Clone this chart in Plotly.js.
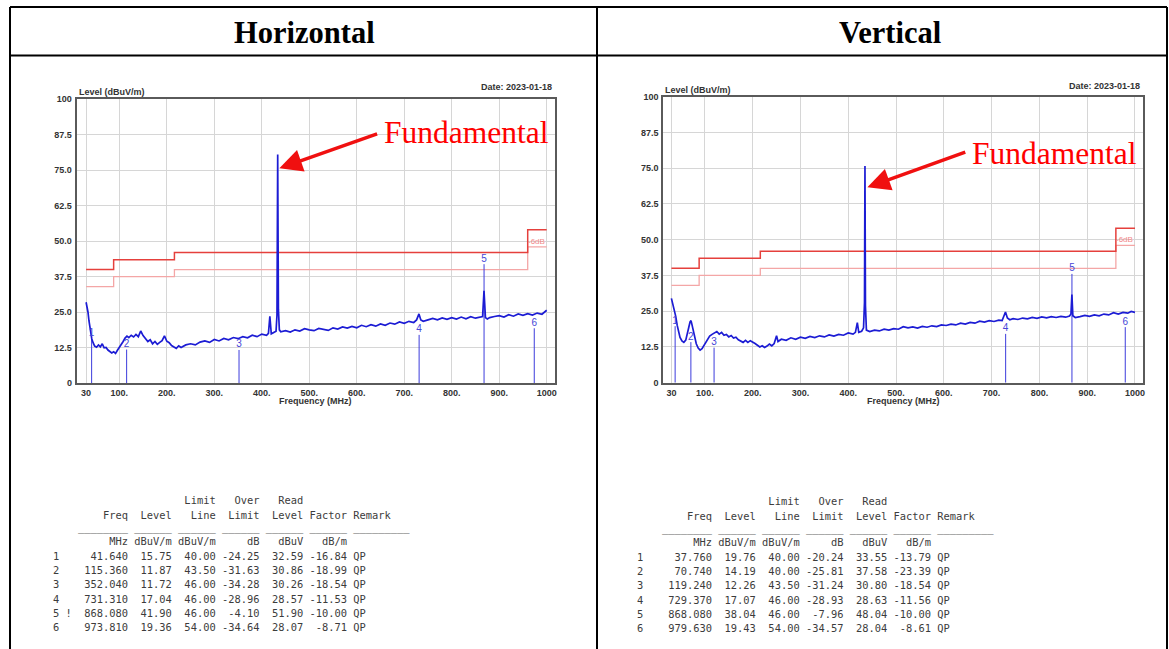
<!DOCTYPE html>
<html><head><meta charset="utf-8">
<script src="https://cdn.plot.ly/plotly-3.0.1.min.js"></script>
<style>html,body{margin:0;padding:0;background:#fff}#chart{width:1169px;height:649px}</style>
</head><body><div id="chart"></div>
<script>
// ---------- data ----------
const hFreq = [30,32,34,36,38,40,42,45,48,52,56,60,64,68,72,76,80,84,88,92,96,100,104,108,112,116,120,125,130,135,140,145,150,155,160,165,170,175,180,185,190,195,200,205,210,215,220,225,230,240,250,260,270,280,290,300,310,320,330,340,350,360,370,380,390,400,410,414,417,420,425,430,432,433.5,435,437,440,450,460,470,480,490,500,510,520,530,540,550,560,570,580,590,600,610,620,630,640,650,660,670,680,690,700,710,720,726,731,735,740,750,760,770,780,790,800,810,820,830,840,850,860,865,868,871,875,880,890,900,910,920,930,940,950,960,970,980,990,1000];
const hLevel = [28.5,27.2,25.0,22.0,19.5,17.2,15.6,14.2,13.1,12.7,13.5,12.8,13.9,12.5,12.6,11.7,11.2,10.7,11.1,10.5,11.6,12.5,13.4,14.7,15.9,16.6,16.1,16.9,16.3,17.2,16.4,18.4,16.8,15.6,14.7,15.3,13.9,14.7,13.7,14.4,15.0,16.7,14.8,14.3,13.3,12.8,12.3,13.2,12.6,13.5,13.9,13.5,14.5,14.9,14.4,15.4,14.9,15.8,15.3,16.1,15.7,16.4,16.0,16.9,16.4,17.3,16.9,17.6,23.6,17.4,18.0,18.3,24.0,80.5,26.0,18.8,18.1,18.5,18.0,18.8,18.4,19.2,18.8,18.5,19.3,18.9,18.6,19.5,19.1,19.8,19.4,20.0,19.5,20.4,19.9,20.6,20.1,20.9,20.4,21.2,20.8,21.6,21.1,21.8,21.4,22.3,24.4,22.3,21.8,22.3,22.8,22.3,23.0,22.5,23.1,22.6,23.3,22.7,23.4,22.9,23.3,23.5,32.5,23.1,22.6,23.1,23.5,23.8,23.3,24.1,23.6,24.4,23.9,24.5,24.0,24.7,24.3,25.7];

const vFreq = [30,33,36,39,42,45,48,52,56,60,63,66,69,71,73,76,79,82,86,90,94,98,102,106,110,115,120,125,130,135,140,145,150,155,160,165,170,175,180,185,190,195,200,205,210,215,220,225,230,235,240,245,250,253,260,270,280,290,300,310,320,330,340,350,360,370,380,390,400,410,415,419,422,428,432,434,435,436,438,445,455,465,475,485,495,505,515,525,535,545,555,565,575,585,595,605,615,625,635,645,655,665,675,685,695,705,715,722,729,733,738,745,755,765,775,785,795,805,815,825,835,845,855,863,866,868,870,875,885,895,905,915,925,935,945,955,965,975,985,992,1000];
const vLevel = [29.5,27.6,26.0,23.2,20.1,17.6,15.8,14.6,14.1,14.9,16.6,19.1,21.3,21.7,20.3,18.0,15.6,13.6,12.1,11.4,11.9,12.9,14.2,15.3,16.3,16.9,17.3,17.9,17.0,17.6,16.6,16.9,16.0,16.5,15.6,15.9,15.0,14.6,14.1,14.8,14.1,14.7,14.3,13.7,13.1,12.5,12.9,12.3,12.8,13.5,12.9,13.7,16.4,14.4,15.2,14.8,15.7,15.2,15.9,15.5,16.2,15.8,16.4,16.0,16.7,16.3,16.9,16.6,17.4,17.0,17.6,21.0,17.6,18.0,19.2,28.0,75.8,27.0,18.4,17.9,18.4,18.1,18.7,18.4,18.9,18.7,19.6,19.2,19.5,19.1,19.7,19.4,19.9,19.6,20.2,20.0,20.5,20.2,20.8,20.5,21.1,20.8,21.5,21.2,21.7,21.4,21.9,21.7,24.7,22.6,22.0,22.4,22.1,22.6,22.3,22.8,22.5,23.0,22.7,23.1,22.8,23.2,22.9,23.3,24.0,30.8,23.4,22.8,23.1,23.5,23.2,23.7,23.4,24.0,23.7,24.5,24.0,24.6,24.3,24.9,24.6];

const limitFreq  = [30, 88, 88, 216, 216, 960, 960, 1000];
const limitLevel = [40, 40, 43.5, 43.5, 46, 46, 54, 54];
const marginDb = 6;

const hMkFreq   = [41.640, 115.360, 352.040, 731.310, 868.080, 973.810];
const hMkLevel  = [15.75, 11.87, 11.72, 17.04, 41.90, 19.36];
const hMkLimit  = [40.00, 43.50, 46.00, 46.00, 46.00, 54.00];
const hMkRead   = [32.59, 30.86, 30.26, 28.57, 51.90, 28.07];
const hMkFactor = [-16.84, -18.99, -18.54, -11.53, -10.00, -8.71];
const hMkFlag   = ['', '', '', '', '!', ''];

const vMkFreq   = [37.760, 70.740, 119.240, 729.370, 868.080, 979.630];
const vMkLevel  = [19.76, 14.19, 12.26, 17.07, 38.04, 19.43];
const vMkLimit  = [40.00, 40.00, 43.50, 46.00, 46.00, 54.00];
const vMkRead   = [33.55, 37.58, 30.80, 28.63, 48.04, 28.04];
const vMkFactor = [-13.79, -23.39, -18.54, -11.56, -10.00, -8.61];
const vMkFlag   = ['', '', '', '', '', ''];

const remark = 'QP';
const xTickVals = [30, 100, 200, 300, 400, 500, 600, 700, 800, 900, 1000];
const xTickText = ['30', '100.', '200.', '300.', '400.', '500.', '600.', '700.', '800.', '900.', '1000'];
const yTickVals = [0, 12.5, 25, 37.5, 50, 62.5, 75, 87.5, 100];
const yTickText = ['0', '12.5', '25.0', '37.5', '50.0', '62.5', '75.0', '87.5', '100'];
const panelTitles = ['Horizontal', 'Vertical'];
const dateText = 'Date: 2023-01-18';
const yTitle = 'Level (dBuV/m)';
const xTitle = 'Frequency (MHz)';
const fundLabel = 'Fundamental';

// ---------- helpers ----------
const W = 1169, H = 649;
const PX = x => x / W;
const PY = y => 1 - y / H;
const NB = s => s.replace(/ /g, '\u00A0');
const lpad = (s, n) => String(s).padStart(n, ' ');

function markerLines(f, l) {
  const xs = [], ys = [];
  f.forEach((v, i) => { xs.push(v, v, null); ys.push(0, l[i], null); });
  return {xs, ys};
}

function tableLines(freq, level, limit, read, factor, flag) {
  const lines = [];
  lines.push(' '.repeat(19) + lpad('Limit', 7) + lpad('Over', 7) + lpad('Read', 7));
  lines.push('   ' + lpad('Freq', 9) + lpad('Level', 7) + lpad('Line', 7) + lpad('Limit', 7) + lpad('Level', 7) + lpad('Factor', 7) + ' Remark');
  lines.push('    ' + '_'.repeat(8) + ' ' + '_'.repeat(6) + ' ' + '_'.repeat(6) + ' ' + '_'.repeat(6) + ' ' + '_'.repeat(6) + ' ' + '_'.repeat(6) + ' ' + '_'.repeat(9));
  lines.push('   ' + lpad('MHz', 9) + lpad('dBuV/m', 7) + lpad('dBuV/m', 7) + lpad('dB', 7) + lpad('dBuV', 7) + lpad('dB/m', 7));
  freq.forEach((f, i) => {
    const over = level[i] - limit[i];
    lines.push(String(i + 1) + ' ' + (flag[i] || ' ') + lpad(f.toFixed(3), 9) + lpad(level[i].toFixed(2), 7) +
      lpad(limit[i].toFixed(2), 7) + lpad(over.toFixed(2), 7) + lpad(read[i].toFixed(2), 7) +
      lpad(factor[i].toFixed(2), 7) + ' ' + remark);
  });
  return lines;
}

// ---------- traces ----------
const traces = [];
function addPanel(xa, ya, freq, lvl, mkF, mkL) {
  traces.push({x: limitFreq, y: limitLevel.map(v => v - marginDb), xaxis: xa, yaxis: ya, mode: 'lines',
    line: {color: '#f4a6a6', width: 1.3}, hoverinfo: 'skip'});
  traces.push({x: limitFreq, y: limitLevel, xaxis: xa, yaxis: ya, mode: 'lines',
    line: {color: '#e5403c', width: 1.5}, hoverinfo: 'skip'});
  const m = markerLines(mkF, mkL);
  traces.push({x: m.xs, y: m.ys, xaxis: xa, yaxis: ya, mode: 'lines',
    line: {color: '#3c3cdc', width: 1}, hoverinfo: 'skip'});
  traces.push({x: freq, y: lvl, xaxis: xa, yaxis: ya, mode: 'lines',
    line: {color: '#1c1cd4', width: 1.7}, hoverinfo: 'skip'});
  traces.push({x: mkF, y: mkL, xaxis: xa, yaxis: ya, mode: 'text', text: mkF.map((_, i) => String(i + 1)),
    textposition: 'top center', textfont: {family: 'Liberation Sans, Arial', size: 10, color: '#4646d8'}, hoverinfo: 'skip'});
}
addPanel('x', 'y', hFreq, hLevel, hMkFreq, hMkLevel);
addPanel('x2', 'y2', vFreq, vLevel, vMkFreq, vMkLevel);

// ---------- axes ----------
const tickFont = {family: 'Liberation Sans, Arial', size: 9, color: '#333', weight: 'bold'};
function xAxis(domain, range, anchor) {
  return {domain, range, anchor, tickvals: xTickVals, ticktext: xTickText, tickfont: tickFont,
    showgrid: true, gridcolor: '#d6d6d6', gridwidth: 1, zeroline: false, showline: true, mirror: true,
    linecolor: '#5a5a5a', linewidth: 2, ticks: '', fixedrange: true};
}
function yAxis(domain, anchor) {
  return {domain, range: [0, 100], anchor, tickvals: yTickVals, ticktext: yTickText, tickfont: tickFont,
    showgrid: true, gridcolor: '#d6d6d6', gridwidth: 1, zeroline: false, showline: true, mirror: true,
    linecolor: '#5a5a5a', linewidth: 2, ticks: '', ticklabelstandoff: 1, fixedrange: true};
}

// ---------- annotations ----------
const ann = [];
const small = {family: 'Liberation Sans, Arial', size: 9, color: '#333', weight: 'bold'};
function txt(x, y, text, font, xanchor, yanchor) {
  ann.push({xref: 'paper', yref: 'paper', x: PX(x), y: PY(y), text, font, showarrow: false,
    xanchor: xanchor || 'center', yanchor: yanchor || 'middle'});
}
// headers
const hdrFont = {family: 'Liberation Serif, Times New Roman', size: 30.5, color: '#000', weight: 'bold'};
txt(304, 33.5, panelTitles[0], hdrFont);
txt(889.5, 33.5, panelTitles[1], hdrFont);
// panel labels
txt(77, 92, yTitle, small, 'left');
txt(663, 90, yTitle, small, 'left');
txt(554, 87, dateText, small, 'right');
txt(1142, 86, dateText, small, 'right');
txt(315, 401, xTitle, small);
txt(903, 401, xTitle, small);
// -6 dB labels
ann.push({xref: 'x', yref: 'y', x: 978, y: 50, text: '-6dB', showarrow: false, font: {family: 'Liberation Sans, Arial', size: 8, color: '#f28a8a'}});
ann.push({xref: 'x2', yref: 'y2', x: 978, y: 50, text: '-6dB', showarrow: false, font: {family: 'Liberation Sans, Arial', size: 8, color: '#f28a8a'}});
// Fundamental
const fundFont = {family: 'Liberation Serif, Times New Roman', size: 31.5, color: '#ff0000'};
txt(382, 133, fundLabel, fundFont, 'left');
txt(970, 153, fundLabel, fundFont, 'left');
ann.push({xref: 'x', yref: 'y', x: 437, y: 75.6, axref: 'x', ayref: 'y', ax: 646, ay: 87.9, text: '',
  showarrow: true, arrowhead: 2, arrowsize: 1.3, arrowwidth: 3.5, arrowcolor: '#f01010', standoff: 0, startstandoff: 0});
ann.push({xref: 'x2', yref: 'y2', x: 440, y: 68.3, axref: 'x2', ayref: 'y2', ax: 648, ay: 80.8, text: '',
  showarrow: true, arrowhead: 2, arrowsize: 1.3, arrowwidth: 3.5, arrowcolor: '#f01010', standoff: 0, startstandoff: 0});
// tables
const monoFont = {family: 'DejaVu Sans Mono, monospace', size: 10.4, color: '#3c3c3c'};
function placeTable(lines, x0, ys) {
  lines.forEach((l, i) => txt(x0, ys[i], NB(l), monoFont, 'left'));
}
placeTable(tableLines(hMkFreq, hMkLevel, hMkLimit, hMkRead, hMkFactor, hMkFlag), 51,
  [500, 515, 527, 541, 555.5, 570, 584, 598.5, 613, 627]);
placeTable(tableLines(vMkFreq, vMkLevel, vMkLimit, vMkRead, vMkFactor, vMkFlag), 635,
  [501, 516, 528, 542, 556.5, 571, 585, 599.5, 614, 628]);

// ---------- frame shapes ----------
const shapes = [];
function ln(x0, y0, x1, y1) {
  shapes.push({type: 'line', xref: 'paper', yref: 'paper', x0: PX(x0), y0: PY(y0), x1: PX(x1), y1: PY(y1),
    line: {color: '#000', width: 2}, layer: 'above'});
}
ln(10, 7, 1167, 7);
ln(10, 55.5, 1167, 55.5);
ln(10, 7, 10, 660);
ln(597, 7, 597, 660);
ln(1167, 7, 1167, 660);

const layout = {
  width: W, height: H, margin: {l: 0, r: 0, t: 0, b: 0}, paper_bgcolor: '#fff', plot_bgcolor: '#fff',
  showlegend: false,
  xaxis: xAxis([PX(76.7), PX(555)], [10.2, 1017.5], 'y'),
  yaxis: yAxis([PY(383.3), PY(99)], 'x'),
  xaxis2: xAxis([PX(663.3), PX(1143.3)], [13, 1017.4], 'y2'),
  yaxis2: yAxis([PY(382.7), PY(96.7)], 'x2'),
  annotations: ann, shapes
};
Plotly.newPlot('chart', traces, layout, {staticPlot: true, displayModeBar: false});
</script></body></html>
